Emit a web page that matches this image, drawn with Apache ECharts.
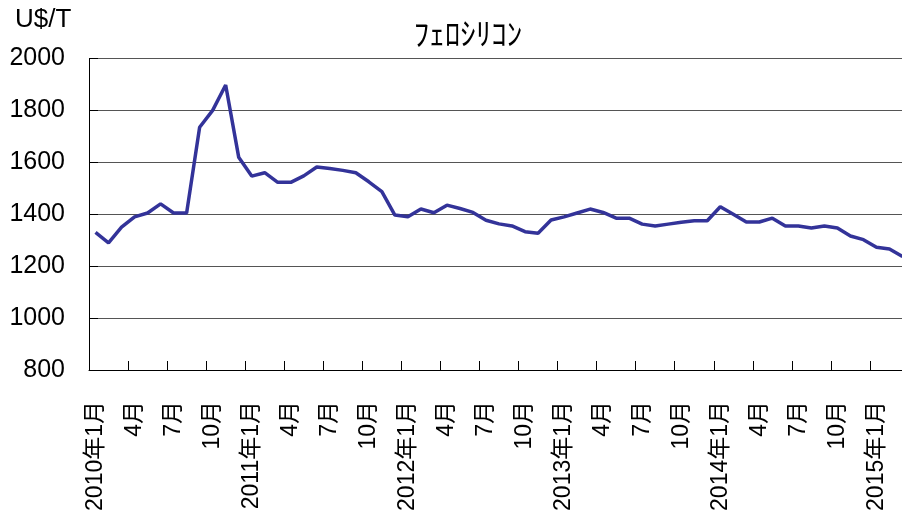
<!DOCTYPE html>
<html>
<head>
<meta charset="utf-8">
<script src="https://cdn.jsdelivr.net/npm/echarts@6/dist/echarts.min.js"></script>
<style>
html,body{margin:0;padding:0;background:#fff;overflow:hidden;width:902px;height:526px;}
#c{width:910px;height:526px;}
</style>
</head>
<body>
<div id="c"></div>
<script>
const categories = [
  "2010年1月","2月","3月","4月","5月","6月","7月","8月","9月","10月","11月","12月",
  "2011年1月","2月","3月","4月","5月","6月","7月","8月","9月","10月","11月","12月",
  "2012年1月","2月","3月","4月","5月","6月","7月","8月","9月","10月","11月","12月",
  "2013年1月","2月","3月","4月","5月","6月","7月","8月","9月","10月","11月","12月",
  "2014年1月","2月","3月","4月","5月","6月","7月","8月","9月","10月","11月","12月",
  "2015年1月","2月","3月"
];
const prices = [
  1330,1290,1350,1390,1405,1440,1405,1405,1735,1800,1898,1620,
  1547,1560,1523,1523,1548,1582,1576,1569,1560,1525,1487,1397,
  1390,1420,1406,1435,1422,1407,1377,1363,1355,1333,1327,1378,
  1390,1405,1420,1407,1385,1385,1362,1355,1362,1369,1375,1375,
  1429,1400,1370,1370,1385,1355,1355,1347,1355,1347,1316,1302,
  1273,1266,1237
];
const titleText = "ﾌｪﾛｼﾘｺﾝ";
const unitText = "U$/T";
const yMin = 800, yMax = 2000, yStep = 200;

const chart = echarts.init(document.getElementById('c'), null, {renderer:'canvas'});
chart.setOption({
  animation: false,
  backgroundColor: '#fff',
  title: {
    text: titleText,
    left: 463, top: 13, textAlign: 'center',
    textStyle: {fontFamily: '"Noto Sans CJK JP"', fontSize: 31, fontWeight: 'normal', color: '#000'}
  },
  graphic: [{
    type: 'text', left: 15, top: 7,
    style: {text: unitText, font: '26px "Liberation Sans", "Noto Sans CJK JP"', fill: '#000'}
  }],
  grid: {left: 89, top: 58.5, right: 1, bottom: 156, containLabel: false},
  xAxis: {
    type: 'category',
    data: categories,
    boundaryGap: true,
    axisLine: {show: true, lineStyle: {color: '#000', width: 1}},
    axisTick: {show: true, inside: true, length: 9, interval: 2, lineStyle: {color: '#000'}},
    axisLabel: {
      interval: 2, rotate: 90, margin: 31,
      fontFamily: '"Liberation Sans", "Noto Sans CJK JP"', fontSize: 23, color: '#000'
    },
    splitLine: {show: false}
  },
  yAxis: {
    type: 'value', min: yMin, max: yMax, interval: yStep,
    axisLine: {show: true, lineStyle: {color: '#000', width: 1}},
    axisTick: {show: true, inside: true, length: 9, lineStyle: {color: '#000'}},
    axisLabel: {
      margin: 24, fontFamily: '"Liberation Sans", "Noto Sans CJK JP"', fontSize: 25, color: '#000',
      formatter: function (v) { return String(v); }
    },
    splitLine: {show: true, lineStyle: {color: '#555', width: 1}}
  },
  series: [{
    type: 'line',
    data: prices,
    showSymbol: false,
    symbol: 'none',
    lineStyle: {color: '#333399', width: 3.5},
    itemStyle: {color: '#333399'}
  }]
});
</script>
</body>
</html>
